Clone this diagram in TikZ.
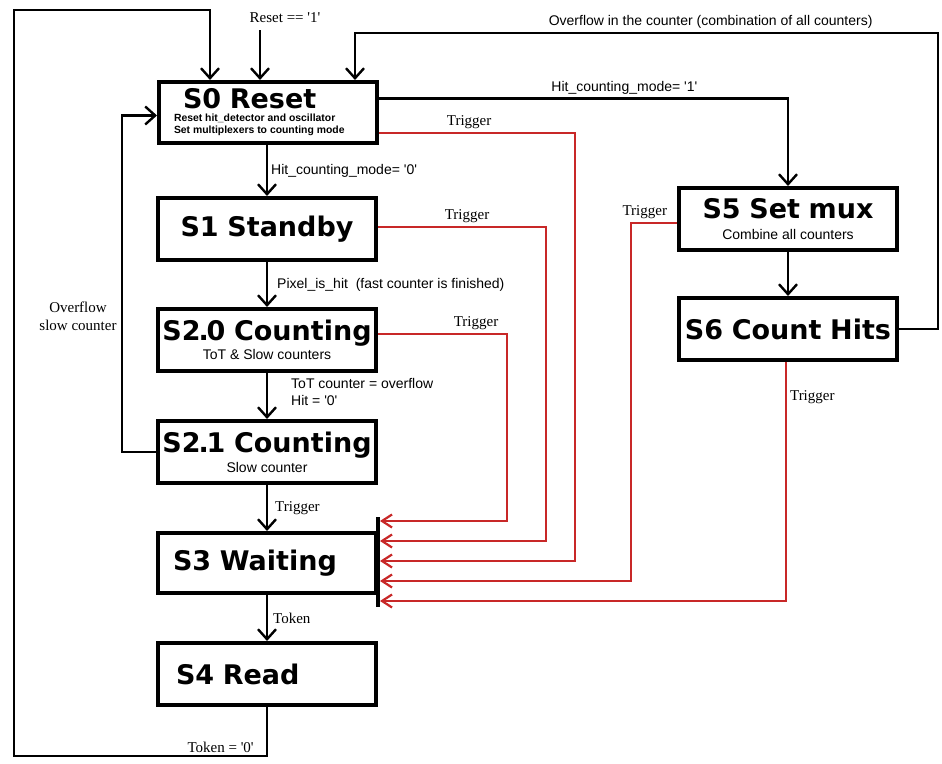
\documentclass[tikz,border=0pt]{standalone}
\usepackage{fontspec}
\setmainfont{Liberation Serif}
\setsansfont{Liberation Sans}
\newfontfamily\titlefont{DejaVu Sans}
\usepackage{tikz}
\usetikzlibrary{positioning, arrows.meta, calc}
\definecolor{trigred}{RGB}{200,40,40}
\newcommand{\sq}[1]{\textquotesingle#1\textquotesingle}
\newcommand{\stname}[1]{{\titlefont\bfseries\fontsize{13.5}{15}\selectfont\spaceskip=.32em\relax #1}}
\newcommand{\stnote}[1]{{\sffamily\fontsize{7}{8}\selectfont #1}}
\newcommand{\stsmall}[1]{{\sffamily\bfseries\fontsize{5.2}{6}\selectfont\spaceskip=.28em\relax #1}}

\begin{document}
\begin{tikzpicture}[x=0.5pt, y=-0.5pt,
		state/.style={draw, line width=2pt, minimum width=109pt, minimum height=31pt, inner sep=2pt, align=center},
		lstate/.style={state, align=left, text width=94pt, inner xsep=7.5pt},
		arr/.style={line width=1.2pt, -{Straight Barb[length=5pt, width=9pt]}},
		trig/.style={draw=trigred, line width=1.1pt, -{Straight Barb[length=5pt, width=6.5pt]}},
		lbl/.style={font=\sffamily\fontsize{7}{8.5}\selectfont, align=left, inner sep=1.5pt},
		tlbl/.style={font=\fontsize{7.5}{9}\selectfont, inner sep=1.5pt}]
		
		\useasboundingbox (0,0) rectangle (942,764);
		
		% States
		\node[lstate, minimum height=30.5pt, font=\fontsize{5.2}{6}\selectfont] (s0) at (268,112.5) {\hspace*{4.5pt}\stname{S0 Reset}\\[0.5pt]\stsmall{Reset hit\_detector and oscillator}\\\stsmall{Set multiplexers to counting mode}};
		\node[state] (s1) at (267,229) {\stname{S1 Standby}};
		\node[state] (s20) at (267,340) {\stname{S2\kern-.08em.\kern-.08em0 Counting}\\[-2.5pt]\stnote{ToT \& Slow counters}};
		\node[state] (s21) at (267,452) {\stname{S2\kern-.08em.\kern-.08em1 Counting}\\[-2pt]\stnote{Slow counter}};
		\node[lstate, minimum height=30pt] (s3) at (267,563) {\stname{S3 Waiting}};
		\node[lstate] (s4) at (267,674) {\hspace*{1.5pt}\stname{S4 Read}};
		\node[state] (s5) at (788,219) {\stname{S5 Set mux}\\[-1.5pt]\stnote{Combine all counters}};
		\node[state] (s6) at (788,329) {\stname{S6 Count Hits}};
		
		% Main flow
		\draw[arr] (s0.south -| s1.north) -- (s1.north) node[lbl, midway, right] {Hit\_counting\_mode= \sq{0}};
		\draw[arr] (s1) -- (s20) node[lbl, midway, right, xshift=3pt] {Pixel\_is\_hit\ \ (fast counter is finished)};
		\draw[arr] (s20) -- (s21) node[lbl, midway, right, xshift=10pt, yshift=2pt] {ToT counter = overflow\\Hit = \sq{0}};
		\draw[arr] (s21) -- (s3) node[tlbl, midway, right, xshift=2pt] {Trigger};
		\draw[arr] (s3) -- (s4) node[tlbl, midway, right, xshift=1pt] {Token};
		\draw[arr] (s5) -- (s6);
		
		% Back to reset
		\node[tlbl] (rst) at (285,18) {Reset == \sq{1}};
		\draw[arr] ([xshift=-12.5pt, yshift=-2pt]rst.south) -- ([xshift=-12.5pt]rst.south |- s0.north);
		
		\coordinate (botleft) at (14,756);
		\coordinate (topleft) at (14,10);
		\draw[arr] (s4.south) |- node[tlbl, pos=0.52, above left, inner sep=1pt] {Token = \sq{0}} (botleft) -- (topleft) -| ($(s0.north west)+(53,0)$);
		
		\draw[arr] (s21.west) -- ++(-34,0) |- ($(s0.west)+(0,3)$);
		\node[tlbl, align=center] (ovslow) at (78,316) {Overflow\\slow counter};
		
		\coordinate (ovcorner) at (938,33);
		\draw[arr] (s6.east) -| (ovcorner) -| node[lbl, pos=0.195, above] {Overflow in the counter (combination of all counters)} ($(s0.north west)+(198,0)$);
		
		\draw[arr] ($(s0.east)+(0,-14)$) -| node[lbl, pos=0.3, above] {Hit\_counting\_mode= \sq{1}} (s5.north);
		
		% Trigger lines into S3
		\foreach \i/\dy in {1/-42, 2/-22, 3/-2, 4/18, 5/38}
			\coordinate (in\i) at ($(s3.east)+(2,\dy)$);
		\draw[line width=2pt] ($(s3.east)+(0,-46)$) -- ($(s3.east)+(0,44)$);
		
		\draw[trig] ($(s20.east)+(0,-6)$) -| node[tlbl, pos=0.38, above] {Trigger} ($(in1)+(127,0)$) -- (in1);
		\draw[trig] ($(s1.east)+(0,-2)$) -| node[tlbl, pos=0.265, above] {Trigger} ($(in2)+(166,0)$) -- (in2);
		\draw[trig] ($(s0.east)+(0,20.5)$) -| node[tlbl, pos=0.23, above] {Trigger} ($(in3)+(195,0)$) -- (in3);
		\draw[trig] ($(s5.west)+(0,4)$) -| node[tlbl, pos=0.35, above] {Trigger} ($(in4)+(251,0)$) -- (in4);
		\draw[trig] ($(s6.south)+(-2,0)$) |- node[tlbl, pos=0.073, right] {Trigger} (in5);
		
	\end{tikzpicture}
\end{document}
